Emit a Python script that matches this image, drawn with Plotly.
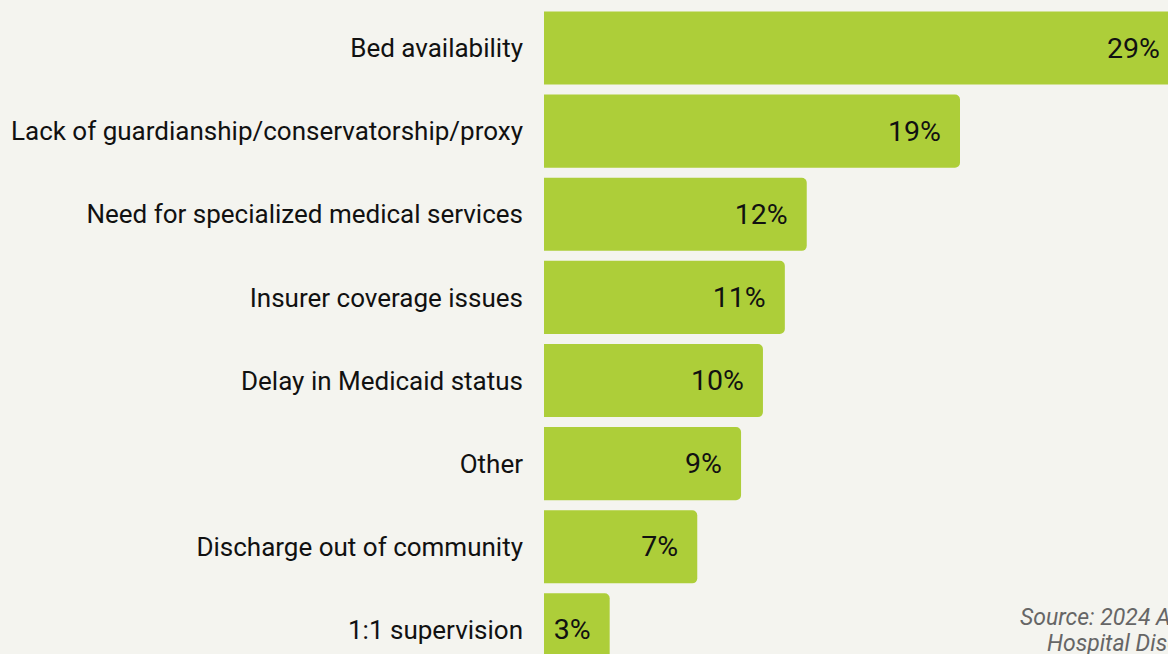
import plotly.graph_objects as go

categories = [
    "Bed availability",
    "Lack of guardianship/conservatorship/proxy",
    "Need for specialized medical services",
    "Insurer coverage issues",
    "Delay in Medicaid status",
    "Other",
    "Discharge out of community",
    "1:1 supervision",
]
values = [29, 19, 12, 11, 10, 9, 7, 3]
value_labels = ["29%", "19%", "12%", "11%", "10%", "9%", "7%", "3%"]
source_lines = ["Source: 2024 AHA Survey on", "Hospital Discharge Delays"]

BAR = "#adce39"
BG = "#f4f4ef"
FONT = "Roboto"
PAD = "\u00a0\u00a0"

fig = go.Figure()
fig.add_trace(go.Bar(
    x=values, y=categories, orientation="h",
    marker=dict(color=BAR, cornerradius=5, line=dict(width=0)),
    text=[t + PAD for t in value_labels],
    textposition="inside", insidetextanchor="end",
    insidetextfont=dict(family=FONT, size=28.5, color="#111111"),
    textangle=0, cliponaxis=True,
    hoverinfo="skip",
))

fig.add_annotation(x=(1018 - 544) / 624, y=(654 - 617) / 654, xref="paper", yref="paper",
                   text=source_lines[0], xanchor="left", yanchor="middle", showarrow=False,
                   font=dict(family=FONT, size=23, color="#666666", style="italic"))
fig.add_annotation(x=(1045 - 544) / 624, y=(654 - 643) / 654, xref="paper", yref="paper",
                   text=source_lines[1], xanchor="left", yanchor="middle", showarrow=False,
                   font=dict(family=FONT, size=23, color="#666666", style="italic"))

fig.update_layout(
    width=1168, height=654,
    margin=dict(l=544, r=0, t=0, b=0),
    paper_bgcolor=BG, plot_bgcolor=BG,
    bargap=0.12,
    showlegend=False,
    uniformtext=dict(mode=False),
    xaxis=dict(range=[0, 28.5], visible=False, fixedrange=True),
    yaxis=dict(range=[7.29, -0.578], showgrid=False, zeroline=False, showline=False,
               ticks="", ticklabelstandoff=20, fixedrange=True,
               tickfont=dict(family=FONT, size=26, color="#111111")),
)

fig.write_html("out.html", config={"displayModeBar": False})
